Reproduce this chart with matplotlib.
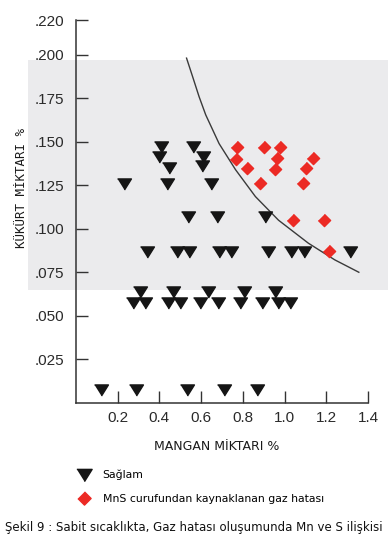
import matplotlib
matplotlib.use("Agg")
import matplotlib.pyplot as plt
from matplotlib.lines import Line2D
from matplotlib.patches import Rectangle

# ---- data ----
saglam_x = [0.408, 0.400, 0.448, 0.230, 0.435, 0.563, 0.610, 0.606, 0.649,
            0.535, 0.678, 0.906,
            0.341, 0.483, 0.543, 0.686, 0.741, 0.922, 1.032, 1.094, 1.312,
            0.305, 0.463, 0.635, 0.805, 0.956,
            0.273, 0.329, 0.440, 0.500, 0.594, 0.683, 0.784, 0.890, 0.968, 1.024,
            0.119, 0.289, 0.530, 0.710, 0.868]
saglam_y = [0.147, 0.1415, 0.135, 0.126, 0.126, 0.147, 0.1415, 0.136, 0.126,
            0.107, 0.107, 0.107,
            0.087, 0.087, 0.087, 0.087, 0.087, 0.087, 0.087, 0.087, 0.087,
            0.064, 0.064, 0.064, 0.064, 0.064,
            0.0573, 0.0573, 0.0573, 0.0573, 0.0573, 0.0573, 0.0573, 0.0573, 0.0573, 0.0573,
            0.0075, 0.0075, 0.0075, 0.0075, 0.0075]

hata_x = [0.773, 0.768, 0.818, 0.881, 0.900, 0.980, 0.963, 0.956,
          1.135, 1.103, 1.090, 1.040, 1.189, 1.213]
hata_y = [0.1473, 0.1402, 0.1349, 0.1263, 0.1470, 0.1473, 0.1406, 0.1345,
          0.1406, 0.1349, 0.1263, 0.1052, 0.1052, 0.0875]

curve_x = [0.530, 0.559, 0.590, 0.622, 0.686, 0.765, 0.860, 0.971,
           1.114, 1.241, 1.356]
curve_y = [0.1981, 0.1875, 0.176, 0.1655, 0.149, 0.134, 0.1186, 0.105,
           0.0918, 0.0822, 0.0751]

xticks = [0.2, 0.4, 0.6, 0.8, 1.0, 1.2, 1.4]
xtick_labels = ["0.2", "0.4", "0.6", "0.8", "1.0", "1.2", "1.4"]
yticks = [0.025, 0.050, 0.075, 0.100, 0.125, 0.150, 0.175, 0.200, 0.220]
ytick_labels = [".025", ".050", ".075", ".100", ".125", ".150", ".175", ".200", ".220"]

xlabel = "MANGAN MİKTARI %"
ylabel = "KÜKÜRT MİKTARI %"
legend_labels = ["Sağlam", "MnS curufundan kaynaklanan gaz hatası"]
caption = "Şekil 9 : Sabit sıcaklıkta, Gaz hatası oluşumunda Mn ve S ilişkisi"

# ---- figure ----
W, H = 388, 544
fig = plt.figure(figsize=(W / 100, H / 100), dpi=100)
fig.patch.set_facecolor("white")

# scanned grey band behind the plot
fig.patches.append(Rectangle((28 / W, 1 - 290 / H), (W - 28) / W, (290 - 60) / H,
                             transform=fig.transFigure, facecolor="#ebebed",
                             edgecolor="none", zorder=0))

ax = fig.add_axes([76 / W, 1 - 403 / H, (368 - 76) / W, (403 - 20) / H])
ax.set_facecolor("none")
ax.set_zorder(2)

tri = [(-1, 0.8), (1, 0.8), (0, -0.8)]
dia = [(0, 1), (1, 0), (0, -1), (-1, 0)]

ax.plot(curve_x, curve_y, color="#3a3a3a", lw=1.0, zorder=2)
ax.plot(saglam_x, saglam_y, linestyle="none", marker=tri, markersize=10,
        color="#151515", zorder=3)
ax.plot(hata_x, hata_y, linestyle="none", marker=dia, markersize=8.8,
        color="#ec2a24", zorder=4)

ax.set_xlim(0, 1.4)
ax.set_ylim(0, 0.220)
ax.set_xticks(xticks)
ax.set_xticklabels(xtick_labels)
ax.set_yticks(yticks)
ax.set_yticklabels(ytick_labels)

for s in ["top", "right"]:
    ax.spines[s].set_visible(False)
for s in ["left", "bottom"]:
    ax.spines[s].set_color("#333333")
    ax.spines[s].set_linewidth(1.1)

ax.tick_params(axis="both", direction="in", length=8.5, width=1.0, color="#333333",
               labelsize=11, labelcolor="#2a2a2a")
ax.tick_params(axis="y", pad=8.5)
ax.tick_params(axis="x", pad=6)
for lab in ax.get_xticklabels() + ax.get_yticklabels():
    lab.set_family("Liberation Sans")

ax.set_xlabel(xlabel, fontsize=9, family="DejaVu Sans", color="#1a1a1a", va="center")
ax.xaxis.set_label_coords((217 - 76) / (368 - 76), -(446.7 - 403) / (403 - 20))
ax.set_ylabel(ylabel, fontsize=9, family="DejaVu Sans Mono", color="#1a1a1a", va="center")
ax.yaxis.set_label_coords((21.5 - 76) / (368 - 76), (403 - 188.5) / (403 - 20))

handles = [Line2D([], [], linestyle="none", marker=tri, markersize=11, color="#151515"),
           Line2D([], [], linestyle="none", marker=dia, markersize=9.5, color="#ec2a24")]
fig.legend(handles, legend_labels, loc="upper left",
           bbox_to_anchor=(76 / W, 1 - 470 / H), frameon=False, fontsize=7.8,
           handlelength=1.45, handletextpad=1.0, labelspacing=1.25, borderpad=0,
           borderaxespad=0, numpoints=1)

fig.text(194 / W, 1 - 527 / H, caption, ha="center", va="center",
         fontsize=8.5, family="DejaVu Sans", color="#111111")

fig.savefig("out.png", dpi=100, facecolor=fig.get_facecolor())
